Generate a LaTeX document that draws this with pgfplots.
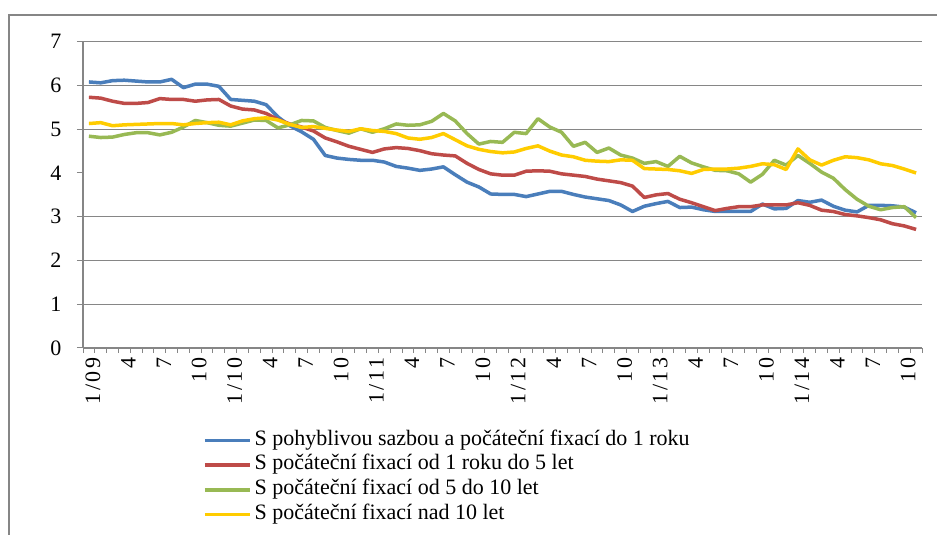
\documentclass[border=0pt]{standalone}
\usepackage{pgfplots}
\pgfplotsset{compat=1.18}
\usepackage{pgfplotstable}
\usepackage{fontspec}
\setmainfont{Liberation Serif}
\newfontfamily\xlabfont[LetterSpace=12]{Liberation Serif}
\definecolor{cblue}{RGB}{74,126,187}
\definecolor{cred}{RGB}{190,75,72}
\definecolor{cgreen}{RGB}{152,185,84}
\definecolor{cyellow}{RGB}{255,204,0}
\definecolor{cgrid}{RGB}{134,134,134}
\pgfplotstableread{
x b r g y
0 6.08 5.73 4.84 5.13
1 6.06 5.71 4.81 5.15
2 6.11 5.64 4.82 5.08
3 6.12 5.59 4.88 5.10
4 6.10 5.59 4.92 5.11
5 6.08 5.61 4.92 5.12
6 6.08 5.70 4.87 5.13
7 6.14 5.68 4.93 5.13
8 5.95 5.68 5.05 5.10
9 6.03 5.64 5.20 5.13
10 6.03 5.67 5.15 5.15
11 5.98 5.68 5.09 5.16
12 5.68 5.53 5.07 5.10
13 5.66 5.46 5.14 5.19
14 5.64 5.44 5.21 5.24
15 5.56 5.36 5.20 5.26
16 5.28 5.22 5.03 5.21
17 5.08 5.12 5.10 5.11
18 4.94 5.05 5.20 5.04
19 4.77 4.96 5.19 5.06
20 4.40 4.80 5.04 5.02
21 4.34 4.71 4.97 4.98
22 4.31 4.61 4.91 4.95
23 4.29 4.54 5.01 5.01
24 4.29 4.47 4.93 4.97
25 4.25 4.55 5.01 4.95
26 4.15 4.58 5.12 4.90
27 4.11 4.56 5.09 4.80
28 4.06 4.51 5.10 4.77
29 4.09 4.44 5.18 4.81
30 4.14 4.41 5.36 4.90
31 3.96 4.39 5.19 4.76
32 3.79 4.22 4.90 4.62
33 3.68 4.08 4.66 4.54
34 3.52 3.98 4.72 4.49
35 3.51 3.95 4.70 4.46
36 3.51 3.95 4.93 4.48
37 3.46 4.04 4.90 4.56
38 3.52 4.05 5.24 4.62
39 3.58 4.04 5.05 4.50
40 3.58 3.98 4.93 4.41
41 3.51 3.95 4.61 4.37
42 3.45 3.92 4.70 4.29
43 3.41 3.86 4.47 4.27
44 3.37 3.82 4.57 4.26
45 3.27 3.78 4.41 4.30
46 3.12 3.70 4.34 4.29
47 3.24 3.44 4.22 4.10
48 3.30 3.50 4.26 4.09
49 3.35 3.53 4.15 4.08
50 3.21 3.40 4.38 4.05
51 3.22 3.32 4.23 3.99
52 3.16 3.23 4.14 4.08
53 3.12 3.14 4.06 4.09
54 3.12 3.19 4.05 4.09
55 3.12 3.23 3.98 4.11
56 3.12 3.23 3.79 4.15
57 3.29 3.27 3.97 4.21
58 3.18 3.27 4.29 4.19
59 3.19 3.27 4.18 4.08
60 3.37 3.32 4.40 4.55
61 3.33 3.26 4.22 4.30
62 3.38 3.15 4.02 4.18
63 3.24 3.12 3.88 4.29
64 3.15 3.05 3.62 4.37
65 3.11 3.02 3.40 4.35
66 3.26 2.98 3.24 4.30
67 3.26 2.93 3.16 4.21
68 3.25 2.84 3.21 4.17
69 3.22 2.79 3.23 4.09
70 3.09 2.71 2.98 4.00
}\datatable
\begin{document}
\begin{tikzpicture}
\useasboundingbox (0pt,0pt) rectangle (937pt,535pt);
\fill[white] (0pt,0pt) rectangle (937pt,535pt);
\draw[cgrid, line width=2pt] (9pt,-2pt) -- (9pt,520pt) -- (940pt,520pt);
\begin{axis}[
  at={(83pt,187pt)}, anchor=south west,
  width=839pt, height=306.3pt, scale only axis,
  xmin=-0.5, xmax=70.5, ymin=0, ymax=7,
  axis x line*=bottom, axis y line*=left,
  axis line style={draw=cgrid, -},
  x axis line style={line width=2pt},
  y axis line style={line width=1.3pt},
  tick align=outside,
  xtick={0,3,...,69},
  xticklabels={1/09,4,7,10,1/10,4,7,10,1/11,4,7,10,1/12,4,7,10,1/13,4,7,10,1/14,4,7,10},
  minor xtick={-0.5,0.5,...,70.5},
  major x tick style={draw=none},
  minor tick length=5pt,
  minor x tick style={draw=cgrid, line width=1pt},
  ytick={0,1,...,7},
  major y tick style={draw=cgrid, line width=1pt},
  major tick length=6pt,
  extra y ticks={1,2,3,5,6,7},
  extra y tick labels={},
  extra y tick style={ymajorgrids=true, major tick length=0pt},
  grid style={draw=cgrid, line width=1pt},
  /pgf/number format/assume math mode=true,
  tick label style={font=\fontsize{22}{24}\selectfont, text=black},
  xticklabel style={rotate=90, anchor=east, xshift=0pt, yshift=-4pt, font=\xlabfont\fontsize{22}{24}\selectfont},
  yticklabel style={xshift=-12pt},
  legend style={draw=none, fill=none, at={(0.143,-0.261)}, anchor=north west,
    font=\fontsize{22}{24}\selectfont, inner sep=0pt, row sep=0pt,
    nodes={inner sep=0pt, text height=17pt, text depth=7.7pt}},
  legend cell align=left,
  legend image code/.code={\draw[#1, line width=3.5pt] (0pt,0pt) -- (45pt,0pt);},
  every axis plot/.append style={line width=3.5pt, line join=round, mark=none},
]
\addplot[cblue] table[x=x,y=b]{\datatable};
\addlegendentry{\hspace{3pt}S pohyblivou sazbou a počáteční fixací do 1 roku}
\addplot[cred] table[x=x,y=r]{\datatable};
\addlegendentry{\hspace{3pt}S počáteční fixací od 1 roku do 5 let}
\addplot[cgreen] table[x=x,y=g]{\datatable};
\addlegendentry{\hspace{3pt}S počáteční fixací od 5 do 10 let}
\addplot[cyellow] table[x=x,y=y]{\datatable};
\addlegendentry{\hspace{3pt}S počáteční fixací nad 10 let}
\end{axis}
\end{tikzpicture}
\end{document}
